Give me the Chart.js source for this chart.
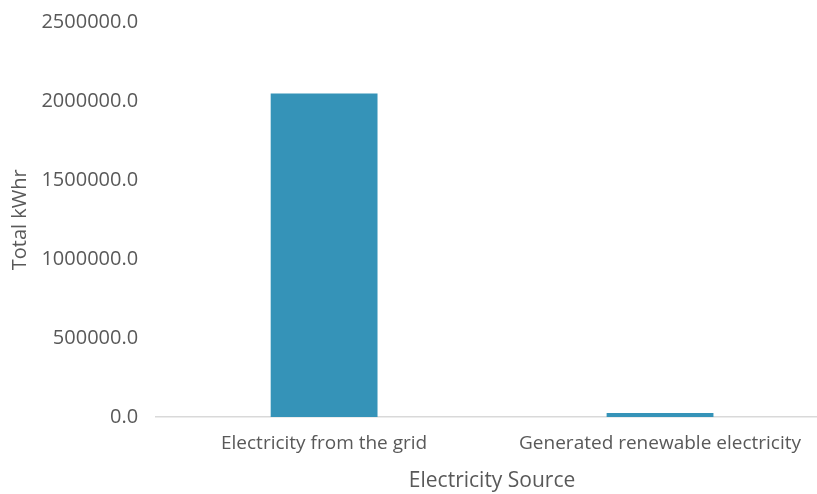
<!DOCTYPE html>
<html>
<head>
<meta charset="utf-8">
<script src="https://cdn.jsdelivr.net/npm/chart.js@4/dist/chart.umd.min.js"></script>
<style>
html,body{margin:0;padding:0;background:#fff;overflow:hidden;}
#wrap{width:817px;height:494px;overflow:hidden;}
canvas{display:block;}
</style>
</head>
<body>
<div id="wrap"><canvas id="c" width="830" height="494"></canvas></div>
<script>
const categories = ["Electricity from the grid", "Generated renewable electricity"];
const totalKWhr = [2050000, 25000];
const yTitle = "Total kWhr";
const xTitle = "Electricity Source";

const textColor = "#595959";
const fontFamily = "'Open Sans', 'Liberation Sans', sans-serif";

new Chart(document.getElementById("c"), {
  type: "bar",
  data: {
    labels: categories,
    datasets: [{
      data: totalKWhr,
      backgroundColor: "#3593B8",
      borderWidth: 0,
      categoryPercentage: 1.0,
      barPercentage: 0.318
    }]
  },
  options: {
    responsive: false,
    animation: false,
    devicePixelRatio: 1,
    layout: { padding: { top: 7.5, left: 8, right: 2, bottom: 0 } },
    plugins: { legend: { display: false }, tooltip: { enabled: false } },
    scales: {
      x: {
        grid: { display: false, drawTicks: false },
        border: { display: true, color: "#D9D9D9", width: 1.5 },
        ticks: { color: textColor, font: { family: fontFamily, size: 19 }, padding: 15.5, maxRotation: 0 },
        title: { display: true, text: xTitle, color: textColor, font: { family: fontFamily, size: 21 }, padding: { top: -2, bottom: 0 } }
      },
      y: {
        min: 0, max: 2500000,
        ticks: {
          stepSize: 500000,
          color: textColor,
          font: { family: fontFamily, size: 20, lineHeight: 0.45 },
          padding: 18,
          callback: v => Number(v).toFixed(1)
        },
        grid: { display: false, drawTicks: false },
        border: { display: false },
        title: { display: true, text: yTitle, color: textColor, font: { family: fontFamily, size: 20 }, padding: { top: 0, bottom: -8.6 } }
      }
    }
  }
});
</script>
</body>
</html>
